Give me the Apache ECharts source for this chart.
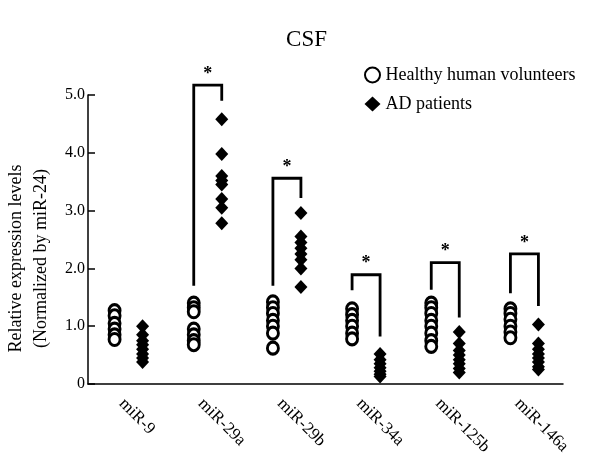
<!DOCTYPE html>
<html><head><meta charset="utf-8">
<script src="https://cdn.jsdelivr.net/npm/echarts@6/dist/echarts.min.js"></script>
<style>html,body{margin:0;padding:0;background:#fff}#c{width:613px;height:461px}</style>
</head><body><div id="c"></div>
<script>
const categories = ['miR-9','miR-29a','miR-29b','miR-34a','miR-125b','miR-146a'];
const healthy = [
  [1.27,1.18,1.05,0.95,0.85,0.77],
  [1.4,1.32,1.25,0.95,0.85,0.75,0.68],
  [1.42,1.32,1.22,1.1,1.0,0.88,0.62],
  [1.3,1.2,1.1,1.0,0.88,0.78],
  [1.4,1.32,1.22,1.1,1.0,0.88,0.75,0.65],
  [1.3,1.22,1.12,1.0,0.9,0.8]
];
const ad = [
  [1.0,0.85,0.75,0.68,0.6,0.52,0.45,0.38],
  [4.58,3.98,3.6,3.52,3.45,3.2,3.05,2.78],
  [2.96,2.55,2.45,2.35,2.25,2.15,2.0,1.68],
  [0.52,0.42,0.35,0.28,0.22,0.17,0.13],
  [0.9,0.7,0.58,0.5,0.42,0.35,0.27,0.2],
  [1.03,0.7,0.6,0.52,0.45,0.38,0.3,0.25]
];
// significance brackets: [category index, top level, healthy-side end, AD-side end]
const brackets = [
  [1,5.17,1.7,4.9],
  [2,3.56,1.7,3.22],
  [3,1.89,1.62,0.82],
  [4,2.1,1.63,1.15],
  [5,2.25,1.57,1.35]
];
const seriesNames = ['Healthy human volunteers','AD patients'];

const FONT = '"Liberation Serif","Times New Roman",serif';
const toPts = arr => arr.flatMap((vals,i)=>vals.map(v=>[i,v]));
const HOFF = -13, AOFF = 15;

const chart = echarts.init(document.getElementById('c'), null, {renderer:'canvas'});
chart.setOption({
  animation:false,
  backgroundColor:'#fff',
  title:{text:'CSF', left:'center', top:23, textStyle:{fontFamily:FONT, fontSize:23, fontWeight:'normal', color:'#000'}},
  legend:{
    data:seriesNames, orient:'vertical', left:359, top:61, itemGap:11,
    itemWidth:16, itemHeight:15,
    textStyle:{fontFamily:FONT, fontSize:18, color:'#000'}
  },
  grid:{left:88, right:50, top:95, bottom:77, containLabel:false, outerBoundsMode:'none'},
  xAxis:{
    type:'category', data:categories, boundaryGap:true,
    axisLine:{lineStyle:{color:'#000', width:1.5}},
    axisTick:{inside:true, length:7, lineStyle:{color:'#000', width:1.5}},
    axisLabel:{rotate:-45, margin:11, verticalAlign:'top', fontFamily:FONT, fontSize:17, color:'#000'},
    splitLine:{show:false}
  },
  yAxis:{
    type:'value', min:0, max:5, interval:1,
    name:'Relative expression levels\n(Normalized by miR-24)',
    nameLocation:'middle', nameGap:34, nameRotate:90, nameMoveOverlap:false,
    nameTextStyle:{fontFamily:FONT, fontSize:18, color:'#000', lineHeight:25, padding:[0,38,0,0]},
    axisLine:{show:true, lineStyle:{color:'#000', width:1.5}},
    axisTick:{show:true, inside:true, length:7, lineStyle:{color:'#000', width:1.5}},
    axisLabel:{margin:3, fontFamily:FONT, fontSize:16, color:'#000',
      formatter:v=> v===0 ? '0' : v.toFixed(1)},
    splitLine:{show:false}
  },
  series:[
    {
      name:seriesNames[0], type:'scatter', data:toPts(healthy),
      symbol:'circle', symbolSize:[11,12], symbolOffset:[HOFF,0],
      itemStyle:{color:'#fff', borderColor:'#000', borderWidth:3, opacity:1}
    },
    {
      name:seriesNames[1], type:'scatter', data:toPts(ad),
      symbol:'diamond', symbolSize:[13,14], symbolOffset:[AOFF,0],
      itemStyle:{color:'#000', opacity:1}
    },
    {
      type:'custom', data:brackets, encode:{x:0, y:[1,2,3]}, silent:true, z:1,
      renderItem:function(params, api){
        const c = api.value(0);
        const top = api.coord([c, api.value(1)]);
        const l = api.coord([c, api.value(2)]);
        const r = api.coord([c, api.value(3)]);
        const xl = top[0]+HOFF, xr = top[0]+AOFF;
        return {type:'group', children:[
          {type:'polyline', shape:{points:[[xl,l[1]],[xl,top[1]],[xr,top[1]],[xr,r[1]]]},
            style:{stroke:'#000', lineWidth:2.8, fill:null}},
          {type:'text', style:{text:'*', x:(xl+xr)/2, y:top[1]-2, align:'center', verticalAlign:'bottom',
            font:'bold 18px '+FONT, fill:'#000'}}
        ]};
      }
    }
  ]
});
</script></body></html>
